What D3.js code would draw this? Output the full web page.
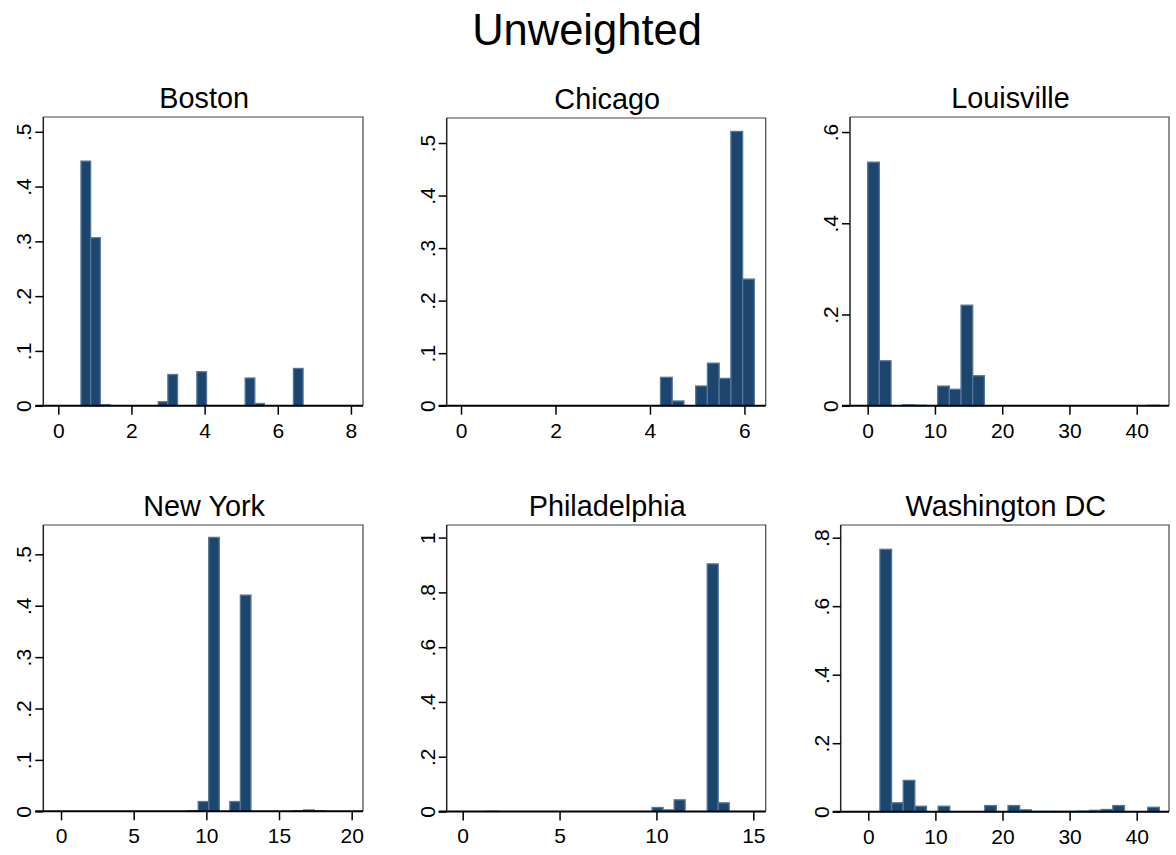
<!DOCTYPE html>
<html>
<head>
<meta charset="utf-8">
<script src="https://cdn.jsdelivr.net/npm/d3@7"></script>
<style>
  html, body { margin: 0; padding: 0; background: #fff; }
  svg { display: block; font-family: "Liberation Sans", Arial, sans-serif; }
</style>
</head>
<body>
<svg id="chart" width="1176" height="855"></svg>
<script>
// ---------------- DATA ----------------
const chartTitle = "Unweighted";
const cities = ["Boston", "Chicago", "Louisville", "New York", "Philadelphia", "Washington DC"];

// histogram bins: first bin edge and bin width for each city
const binStart = [0.62, 0, 0, 0, 1.24, 0];
const binWidth = [0.264, 0.2484, 1.735, 0.726, 0.569, 1.735];

// fraction of observations in each bin
const bostonFrac = [0.4465, 0.3066, 0.002, 0, 0, 0, 0, 0, 0.0073, 0.057, 0, 0,
                    0.062, 0, 0, 0, 0, 0.0505, 0.004, 0, 0, 0, 0.068];
const chicagoFrac = [0, 0, 0, 0, 0, 0, 0, 0, 0, 0, 0, 0, 0, 0, 0, 0, 0,
                     0.054, 0.009, 0, 0.0375, 0.081, 0.052, 0.522, 0.241];
const louisvilleFrac = [0.534, 0.0985, 0, 0.002, 0.001, 0, 0.043, 0.036, 0.2204, 0.0657,
                        0, 0, 0, 0, 0, 0, 0, 0, 0, 0, 0, 0, 0, 0, 0.001];
const newYorkFrac = [0, 0, 0, 0, 0, 0, 0, 0, 0, 0, 0, 0, 0.001, 0.019, 0.533, 0,
                     0.019, 0.4207, 0, 0, 0, 0, 0.001, 0.0026, 0.001];
const philadelphiaFrac = [0.001, 0, 0, 0, 0, 0, 0, 0, 0, 0, 0, 0, 0, 0, 0,
                          0.0146, 0.006, 0.0426, 0, 0, 0.904, 0.0316];
const washingtonFrac = [0, 0.766, 0.026, 0.0915, 0.016, 0, 0.016, 0, 0, 0, 0.018, 0,
                        0.018, 0.0055, 0.001, 0.001, 0.001, 0.001, 0.002, 0.004, 0.0065,
                        0.018, 0, 0, 0.013];
const fractions = [bostonFrac, chicagoFrac, louisvilleFrac, newYorkFrac, philadelphiaFrac, washingtonFrac];

// axis ticks
const xTicks = [[0, 2, 4, 6, 8], [0, 2, 4, 6], [0, 10, 20, 30, 40],
                [0, 5, 10, 15, 20], [0, 5, 10, 15], [0, 10, 20, 30, 40]];
const yTicks = [[0, 0.1, 0.2, 0.3, 0.4, 0.5], [0, 0.1, 0.2, 0.3, 0.4, 0.5], [0, 0.2, 0.4, 0.6],
                [0, 0.1, 0.2, 0.3, 0.4, 0.5], [0, 0.2, 0.4, 0.6, 0.8, 1], [0, 0.2, 0.4, 0.6, 0.8]];

// ---------------- LAYOUT ----------------
// plot-region frames (px) and axis extents (data units at the frame edges)
const layout = [
  { left: 43.3, right: 363,   top: 117,   bottom: 405.7, xMin: -0.41, xMax: 8.33,  yMax: 0.527 },
  { left: 446.7, right: 765.7, top: 118,  bottom: 405.7, xMin: -0.303, xMax: 6.45, yMax: 0.5476 },
  { left: 850,  right: 1169,  top: 117,   bottom: 405.7, xMin: -2.63, xMax: 44.8,  yMax: 0.633 },
  { left: 43.3, right: 363,   top: 525,   bottom: 811.3, xMin: -1.22, xMax: 20.78, yMax: 0.5571 },
  { left: 446.7, right: 765.7, top: 525,  bottom: 811.5, xMin: -0.825, xMax: 15.64, yMax: 1.046 },
  { left: 840.7, right: 1169, top: 525,   bottom: 811.7, xMin: -4.11, xMax: 44.81, yMax: 0.837 }
];

const barFill = "#1c466e";
const barStroke = "#56769a";
const fmt = v => v === 0 ? "0" : (v === 1 ? "1" : String(+v.toFixed(2)).replace(/^0\./, "."));

const svg = d3.select("#chart");

svg.append("text")
  .attr("x", 587).attr("y", 45)
  .attr("text-anchor", "middle")
  .attr("font-size", 43.5)
  .attr("fill", "#000")
  .text(chartTitle);

cities.forEach((city, i) => {
  const L = layout[i];
  const x = d3.scaleLinear().domain([L.xMin, L.xMax]).range([L.left, L.right]);
  const y = d3.scaleLinear().domain([0, L.yMax]).range([L.bottom, L.top]);
  const g = svg.append("g");

  // panel title
  g.append("text")
    .attr("x", (L.left + L.right) / 2 + 1).attr("y", L.top - 9.5)
    .attr("text-anchor", "middle")
    .attr("font-size", 28.8)
    .attr("fill", "#000")
    .text(city);

  // plot region outline (top and right)
  g.append("path")
    .attr("d", `M${L.left},${L.top}H${L.right}V${L.bottom}`)
    .attr("fill", "none").attr("stroke", "#444").attr("stroke-width", 1.2);

  // bars
  const bins = fractions[i].map((f, k) => ({
    x0: binStart[i] + k * binWidth[i],
    x1: binStart[i] + (k + 1) * binWidth[i],
    f: f
  })).filter(d => d.f > 0);

  g.selectAll("rect.bar").data(bins).enter().append("rect")
    .attr("class", "bar")
    .attr("x", d => x(d.x0))
    .attr("width", d => x(d.x1) - x(d.x0))
    .attr("y", d => y(d.f))
    .attr("height", d => y(0) - y(d.f))
    .attr("fill", barFill)
    .attr("stroke", barStroke)
    .attr("stroke-width", 1.3);

  // x axis
  const xAxis = d3.axisBottom(x).tickValues(xTicks[i]).tickSize(9).tickPadding(8).tickFormat(fmt);
  const xg = g.append("g").attr("transform", `translate(0,${L.bottom})`).call(xAxis);
  xg.select(".domain").attr("d", `M${L.left - 8},0H${L.right}`).attr("stroke", "#000").attr("stroke-width", 2);
  xg.selectAll(".tick line").attr("stroke", "#000").attr("stroke-width", 1.5);
  xg.selectAll(".tick text").attr("font-size", 21).attr("fill", "#000")
    .attr("font-family", "Liberation Sans, Arial, sans-serif");

  // y axis
  const yAxis = d3.axisLeft(y).tickValues(yTicks[i]).tickSize(8).tickFormat(fmt);
  const yg = g.append("g").attr("transform", `translate(${L.left},0)`).call(yAxis);
  yg.select(".domain").attr("d", `M0,${L.bottom}V${L.top}`).attr("stroke", "#222").attr("stroke-width", 1.5);
  yg.selectAll(".tick line").attr("stroke", "#000").attr("stroke-width", 1.5);
  yg.selectAll(".tick text")
    .attr("font-size", 21).attr("fill", "#000")
    .attr("font-family", "Liberation Sans, Arial, sans-serif")
    .attr("x", null).attr("dy", null)
    .attr("text-anchor", "middle")
    .attr("transform", "translate(-12,0) rotate(-90)");
});
</script>
</body>
</html>
